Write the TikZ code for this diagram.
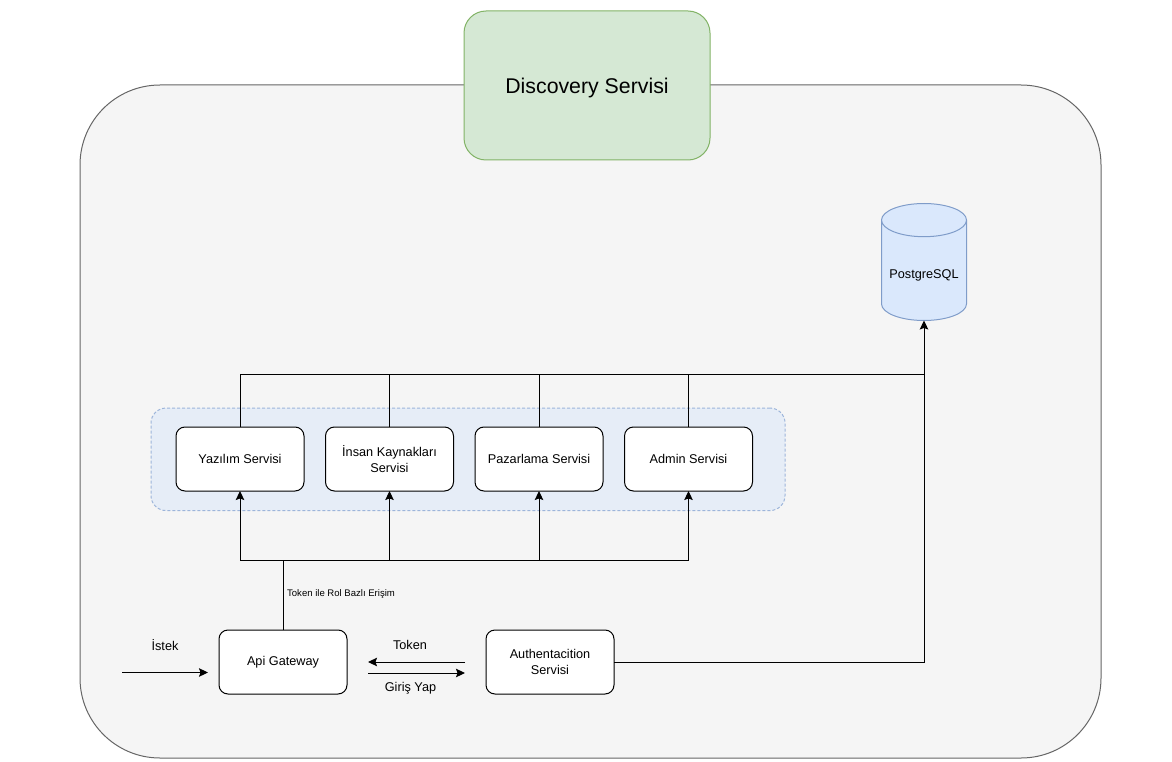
\documentclass[tikz,border=0pt]{standalone}
\usepackage{fontspec}
\setmainfont{Liberation Sans}
\usetikzlibrary{arrows.meta,shapes.geometric}
\definecolor{panelfill}{HTML}{F5F5F5}
\definecolor{panelline}{HTML}{666666}
\definecolor{greenfill}{HTML}{D5E8D4}
\definecolor{greenline}{HTML}{82B366}
\definecolor{groupfill}{HTML}{E6EDF7}
\definecolor{groupline}{HTML}{9DB5DA}
\definecolor{dbfill}{HTML}{DAE8FC}
\definecolor{dbline}{HTML}{7F9CC9}
\tikzset{
  x=1pt,y=-1pt,
  every node/.style={font=\fontsize{12.7}{15.5}\selectfont,align=center,inner sep=0pt,outer sep=0pt},
  svc/.style={draw=black,line width=1pt,fill=white,rounded corners=9pt,minimum width=128pt,minimum height=64pt},
  panel/.style={draw=panelline,line width=1pt,fill=panelfill,rounded corners=80pt,minimum width=1021pt,minimum height=673pt},
  discovery/.style={draw=greenline,line width=1pt,fill=greenfill,rounded corners=22pt,minimum width=246pt,minimum height=149pt,font=\fontsize{21.3}{26}\selectfont},
  groupbox/.style={draw=groupline,line width=1pt,dashed,dash pattern=on 3pt off 2pt,fill=groupfill,rounded corners=15pt,minimum width=634pt,minimum height=102.5pt},
  db/.style={cylinder,shape border rotate=90,aspect=0.48,draw=dbline,line width=1pt,fill=dbfill,minimum width=85pt,minimum height=117pt},
  conn/.style={draw=black,line width=1pt},
  arrow/.style={conn,-{Stealth[length=9pt,width=8.5pt,inset=1.5pt]}},
  lbl/.style={}
}
\begin{document}
\begin{tikzpicture}
\useasboundingbox (0,0) rectangle (1172,762);
\node[panel] (outer) at (590.5,421.5) {};
\node[discovery] (disc) at (587,85.5) {\raisebox{-2pt}[\height][\depth]{Discovery Servisi}};
\node[groupbox] (group) at (468,459.3) {};
\node[svc] (yaz) at (240,459) {Yazılım Servisi};
\node[svc] (ik) at (389.5,459) {İnsan Kaynakları\\Servisi};
\node[svc] (paz) at (539,459) {Pazarlama Servisi};
\node[svc] (adm) at (688.5,459) {Admin Servisi};
\node[svc] (api) at (283,662) {Api Gateway};
\node[svc] (auth) at (550,662) {Authentacition\\Servisi};
\node[db,anchor=south] (pg) at (924,320.5) {\raisebox{-5pt}[\height][\depth]{PostgreSQL}};
\coordinate (top) at (924,374);
\coordinate (low) at (283,560.5);
\coordinate (istekA) at (122,672.5);
\coordinate (istekB) at (208,672.5);
\coordinate (tokA) at (465,662);
\coordinate (tokB) at (368,662);
\coordinate (girA) at (368,673);
\coordinate (girB) at (465,673);
\coordinate (corner) at (924,662);
% up to database
\draw[arrow] (auth.east) -- (corner) -- (pg.south);
\draw[conn] (yaz.north) -- (yaz.north|-top) -- (top);
\draw[conn] (ik.north) -- (ik.north|-top);
\draw[conn] (paz.north) -- (paz.north|-top);
\draw[conn] (adm.north) -- (adm.north|-top);
% gateway fan-out
\draw[conn] (api.north) -- (low);
\draw[conn] (yaz.south|-low) -- (adm.south|-low);
\draw[arrow] (yaz.south|-low) -- (yaz.south);
\draw[arrow] (ik.south|-low) -- (ik.south);
\draw[arrow] (paz.south|-low) -- (paz.south);
\draw[arrow] (adm.south|-low) -- (adm.south);
\draw[arrow] (istekA) -- (istekB);
\draw[arrow] (tokA) -- (tokB);
\draw[arrow] (girA) -- (girB);
\node[lbl] (l1) at (165,645.5) {İstek};
\node[lbl] (l2) at (410,645) {Token};
\node[lbl] (l3) at (410.5,688.5) {Giriş Yap};
\node[lbl,font=\fontsize{9.55}{11}\selectfont] (l4) at (341,594.5) {Token ile Rol Bazlı Erişim};
\end{tikzpicture}
\end{document}
